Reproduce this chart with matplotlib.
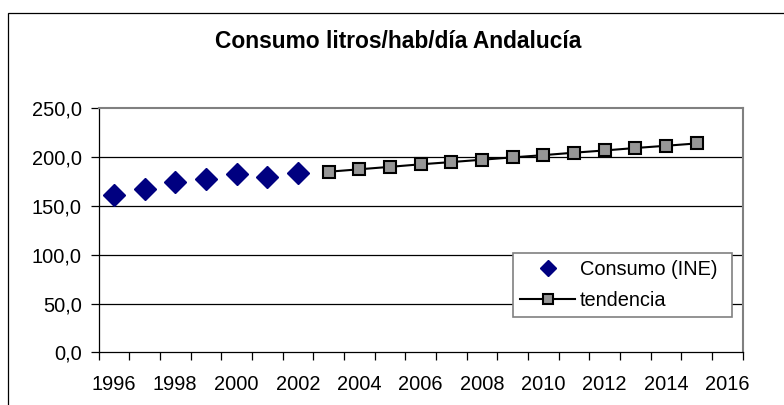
import matplotlib
matplotlib.use("Agg")
import matplotlib.pyplot as plt
from matplotlib.patches import Rectangle

plt.rcParams['font.family'] = ['Liberation Sans', 'DejaVu Sans']

# datos
anios_ine = [1996, 1997, 1998, 1999, 2000, 2001, 2002]
consumo_ine = [161.5, 167.3, 174.8, 177.5, 183.0, 180.0, 183.3]
anios_tend = [2003, 2004, 2005, 2006, 2007, 2008, 2009, 2010, 2011, 2012, 2013, 2014, 2015]
tendencia = [185.0, 187.5, 190.0, 192.6, 194.9, 197.3, 199.7, 202.0, 204.5, 206.8, 209.3, 211.6, 214.0]
anios_etiq = [1996, 1998, 2000, 2002, 2004, 2006, 2008, 2010, 2012, 2014, 2016]
y_ticks = [0, 50, 100, 150, 200, 250]

W, H = 784, 405
fs = 14.4
fig = plt.figure(figsize=(W / 100, H / 100), dpi=100)

# marco exterior del gráfico
fig.patches.append(Rectangle((7.5 / W, -0.1), 2, (H - 12.7) / H + 0.1,
                             transform=fig.transFigure, fill=False,
                             edgecolor='black', linewidth=0.9))

ax = fig.add_axes([98.5 / W, (H - 352.3) / H, (742.5 - 98.5) / W, (352.3 - 108.3) / H])

ax.plot(anios_ine, consumo_ine, linestyle='none', marker='D', markersize=10.7,
        color='#000080', label='Consumo (INE)', zorder=3)
ax.plot(anios_tend, tendencia, color='black', linewidth=1.5, marker='s',
        markersize=9, markerfacecolor='#969696', markeredgecolor='black',
        markeredgewidth=1.5, label='tendencia', zorder=3)

# eje de categorías: marcas entre años, etiquetas centradas
ax.set_xlim(1995.5, 2016.5)
ax.set_xticks([a - 0.5 for a in range(1996, 2018)])
ax.set_xticklabels([])
ax.set_xticks(anios_etiq, minor=True)
ax.set_xticklabels([str(a) for a in anios_etiq], minor=True, fontsize=fs)
ax.tick_params(axis='x', which='major', direction='out', length=6, width=0.9)
ax.tick_params(axis='x', which='minor', length=0, pad=16)

ax.set_ylim(0, 250)
ax.set_yticks(y_ticks)
ax.set_yticklabels([f"{v:.1f}".replace('.', ',') for v in y_ticks], fontsize=fs)
ax.tick_params(axis='y', direction='out', length=6, width=0.9, pad=6)

for v in y_ticks[1:-1]:
    ax.axhline(v, color='black', linewidth=0.9, zorder=1)

ax.spines['left'].set_color('black')
ax.spines['bottom'].set_color('black')
ax.spines['left'].set_linewidth(0.9)
ax.spines['bottom'].set_linewidth(0.9)
ax.spines['top'].set_color('#808080')
ax.spines['right'].set_color('#808080')
ax.spines['top'].set_linewidth(1.5)
ax.spines['right'].set_linewidth(1.5)

fig.text(398 / W, (H - 41) / H, 'Consumo litros/hab/día Andalucía',
         ha='center', va='center', fontsize=16.4, fontweight='bold')

leg = ax.legend(loc='upper left',
                bbox_to_anchor=(513 / W, (H - 252.7) / H, 219 / W, 0.0001),
                mode='expand', bbox_transform=fig.transFigure, fontsize=fs,
                frameon=True, fancybox=False, edgecolor='#808080', framealpha=1,
                borderpad=0.35, handlelength=2.75, handletextpad=0.25,
                labelspacing=0.6, borderaxespad=0, markerscale=0.75)
leg.get_frame().set_linewidth(1.2)

fig.savefig('out.png', dpi=100)
